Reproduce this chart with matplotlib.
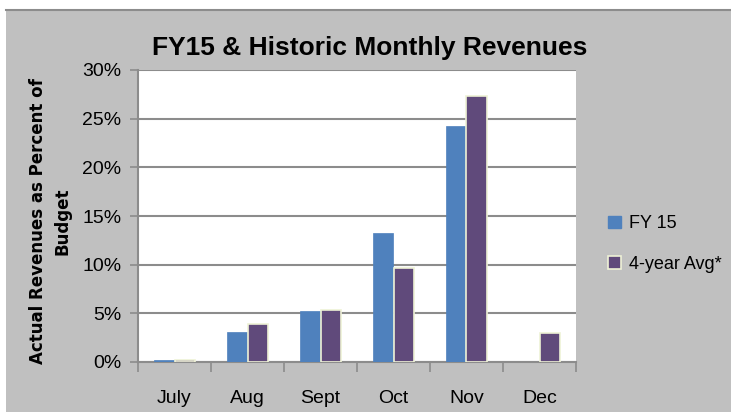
import numpy as np
import matplotlib.pyplot as plt
from matplotlib.patches import Rectangle
from matplotlib.lines import Line2D
from matplotlib import font_manager

months = ["July", "Aug", "Sept", "Oct", "Nov", "Dec"]
fy15 = [0.25, 3.1, 5.2, 13.3, 24.2, 0.0]
avg4 = [0.18, 3.9, 5.3, 9.7, 27.3, 3.0]
yticks = [0, 5, 10, 15, 20, 25, 30]

names = {f.name for f in font_manager.fontManager.ttflist}
fam = "Liberation Sans Narrow" if "Liberation Sans Narrow" in names else "Liberation Sans"

W, H = 731, 412
fig = plt.figure(figsize=(W / 100, H / 100), dpi=100)
fig.patch.set_facecolor("white")
# gray chart area with darker top line
fig.patches.append(Rectangle((6 / W, 0), 1, 1 - 11 / H, transform=fig.transFigure,
                             facecolor="#c0c0c0", edgecolor="none", zorder=-2))
fig.lines.append(Line2D([6 / W, 1], [1 - 10 / H, 1 - 10 / H], transform=fig.transFigure,
                        color="#8c8c8c", lw=1.5, zorder=-1))

ax = fig.add_axes([138 / W, 1 - 362 / H, (576 - 138) / W, (362 - 70) / H])
ax.set_zorder(2)
ax.set_facecolor("white")

x = np.arange(len(months))
w = 0.28
ax.bar(x - w / 2, fy15, w, color="#4f81bd", edgecolor="#4f81bd", linewidth=0.5, zorder=3)
ax.bar(x + w / 2, avg4, w, color="#604a7b", edgecolor="#eef2d6", linewidth=1.2, zorder=3)

ax.set_xlim(-0.5, len(months) - 0.5)
ax.set_ylim(0, 30)
ax.set_yticks(yticks)
ax.set_yticklabels([f"{v}%" for v in yticks], fontsize=14, family=fam)
ax.yaxis.grid(True, color="#8c8c8c", lw=1.5, zorder=1)
ax.set_axisbelow(True)
ax.set_xticks(x)
ax.set_xticklabels(months, fontsize=14, family=fam)
ax.set_xticks(np.arange(-0.5, len(months)), minor=True)
ax.tick_params(axis="x", which="major", length=0, pad=20)
ax.tick_params(axis="x", which="minor", length=7, color="#8c8c8c", width=1.2)
ax.tick_params(axis="y", length=6, color="#8c8c8c", width=1.2, pad=6)
for s in ["top", "right"]:
    ax.spines[s].set_visible(False)
for s in ["left", "bottom"]:
    ax.spines[s].set_color("#8c8c8c")
    ax.spines[s].set_linewidth(1.5)

fig.text(370 / W, 1 - 48 / H, "FY15 & Historic Monthly Revenues", ha="center", va="center",
         fontsize=19, fontweight="bold", family=fam)
fig.text(50 / W, 1 - 221 / H, "Actual Revenues as Percent of\nBudget", ha="center", va="center",
         rotation=90, fontsize=12, fontweight="bold", family="DejaVu Sans", linespacing=1.45)

handles = [Rectangle((0, 0), 1, 1, facecolor="#4f81bd", edgecolor="#4f81bd"),
           Rectangle((0, 0), 1, 1, facecolor="#604a7b", edgecolor="#eef2d6", lw=1.2)]
fig.legend(handles, ["FY 15", "4-year Avg*"], loc="center left",
           bbox_to_anchor=(592 / W, 1 - 244 / H), frameon=False,
           handlelength=0.68, handleheight=0.68, handletextpad=0.45, labelspacing=1.3,
           prop={"family": fam, "size": 13})

fig.savefig("out.png", dpi=100, facecolor=fig.get_facecolor())
